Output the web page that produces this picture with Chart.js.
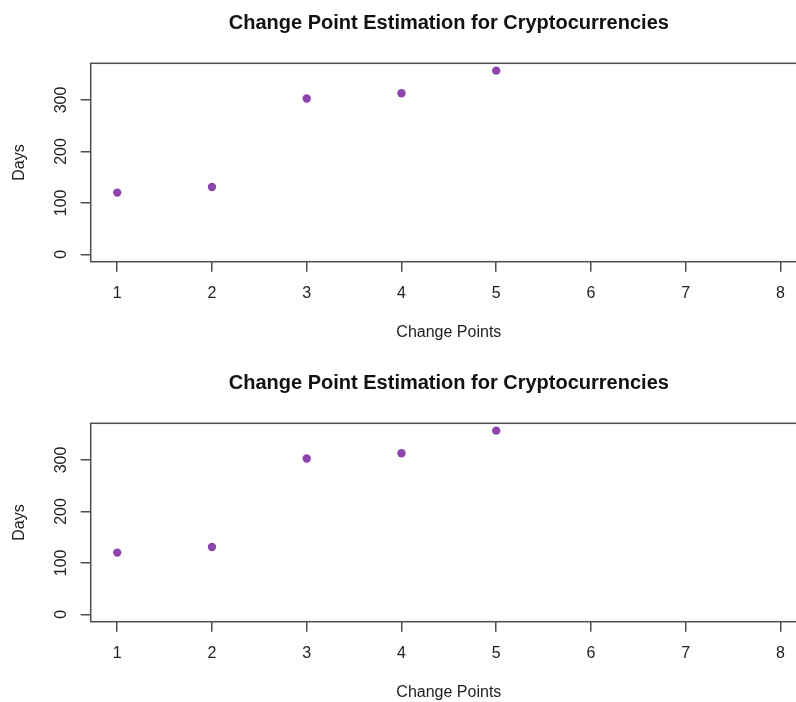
<!DOCTYPE html>
<html lang="en">
<head>
    <meta charset="UTF-8">
    <meta name="viewport" content="width=device-width, initial-scale=1.0">
    <title>Change Point Estimation for Cryptocurrencies</title>
    <script src="https://cdn.jsdelivr.net/npm/chart.js"></script>
    <style>
        html, body {
            margin: 0;
            padding: 0;
            background: #fff;
            overflow: hidden;
        }

        .panel {
            width: 830px;
            height: 360px;
        }

        canvas {
            display: block;
        }
    </style>
</head>
<body>

    <!-- Two identical panels, the right edge of the plot box falls outside the window -->
    <div class="panel"><canvas id="chartTop" width="830" height="360"></canvas></div>
    <div class="panel"><canvas id="chartBottom" width="830" height="360"></canvas></div>

    <script>
        // Data
        const changePoints = [1, 2, 3, 4, 5];
        const days = [120, 131, 303, 313, 357];

        // Axis ticks
        const xTicks = [1, 2, 3, 4, 5, 6, 7, 8];
        const yTicks = [0, 50, 100, 150, 200, 250, 300, 350];
        const yLabels = [0, 100, 200, 300];

        const titleText = 'Change Point Estimation for Cryptocurrencies';
        const xTitle = 'Change Points';
        const yTitle = 'Days';

        const fontFamily = '"Liberation Sans", Arial, Helvetica, sans-serif';
        const axisColor = '#4d4d4d';
        const textColor = '#222';
        const pointColor = '#8e44ad';

        // R style axis range: 4% extra on each side
        const xMin = xTicks[0] - 0.04 * (xTicks[xTicks.length - 1] - xTicks[0]);
        const xMax = xTicks[xTicks.length - 1] + 0.04 * (xTicks[xTicks.length - 1] - xTicks[0]);
        const yTop = Math.max(...days);
        const yMin = -0.04 * yTop;
        const yMax = yTop * 1.04;

        // Box around the plot region
        const plotBox = {
            id: 'plotBox',
            afterDraw(chart) {
                const { ctx, chartArea: a } = chart;
                ctx.save();
                ctx.strokeStyle = axisColor;
                ctx.lineWidth = 1.5;
                ctx.strokeRect(a.left, a.top, a.right - a.left, a.bottom - a.top);
                ctx.restore();
            }
        };

        function makeChart(id) {
            const points = changePoints.map((x, i) => ({ x: x, y: days[i] }));
            return new Chart(document.getElementById(id), {
                type: 'scatter',
                data: {
                    datasets: [{
                        label: yTitle,
                        data: points,
                        backgroundColor: pointColor,
                        borderColor: pointColor,
                        borderWidth: 0,
                        pointRadius: 4.2,
                        pointStyle: 'circle'
                    }]
                },
                options: {
                    responsive: false,
                    animation: false,
                    layout: { padding: { top: 0, left: 0, right: 23, bottom: 0 } },
                    plugins: {
                        legend: { display: false },
                        tooltip: { enabled: false },
                        title: {
                            display: true,
                            text: titleText,
                            fullSize: false,
                            color: '#111',
                            font: { family: fontFamily, size: 20, weight: 'bold' },
                            padding: { top: 11, bottom: 28.3 }
                        }
                    },
                    scales: {
                        x: {
                            type: 'linear',
                            min: xMin,
                            max: xMax,
                            afterBuildTicks: s => { s.ticks = xTicks.map(v => ({ value: v })); },
                            afterFit: s => { s.height = 98.3; },
                            border: { display: false },
                            grid: {
                                drawOnChartArea: false,
                                drawTicks: true,
                                tickLength: 10,
                                color: axisColor,
                                lineWidth: 1.5
                            },
                            ticks: {
                                padding: 12,
                                color: textColor,
                                font: { family: fontFamily, size: 16 }
                            },
                            title: {
                                display: true,
                                text: xTitle,
                                color: textColor,
                                font: { family: fontFamily, size: 16 },
                                padding: { top: 0, bottom: 17.4 }
                            }
                        },
                        y: {
                            type: 'linear',
                            min: yMin,
                            max: yMax,
                            afterBuildTicks: s => { s.ticks = yTicks.map(v => ({ value: v })); },
                            afterFit: s => { s.width = 90.7; },
                            border: { display: false },
                            grid: {
                                drawOnChartArea: false,
                                drawTicks: true,
                                tickLength: 10,
                                color: axisColor,
                                lineWidth: 1.5
                            },
                            ticks: {
                                padding: 5.6,
                                minRotation: 90,
                                maxRotation: 90,
                                crossAlign: 'center',
                                color: textColor,
                                font: { family: fontFamily, size: 16 },
                                callback: v => yLabels.includes(v) ? String(v) : ''
                            },
                            title: {
                                display: true,
                                text: yTitle,
                                color: textColor,
                                font: { family: fontFamily, size: 16 },
                                padding: { top: 10, bottom: 0 }
                            }
                        }
                    }
                },
                plugins: [plotBox]
            });
        }

        makeChart('chartTop');
        makeChart('chartBottom');
    </script>

</body>
</html>
